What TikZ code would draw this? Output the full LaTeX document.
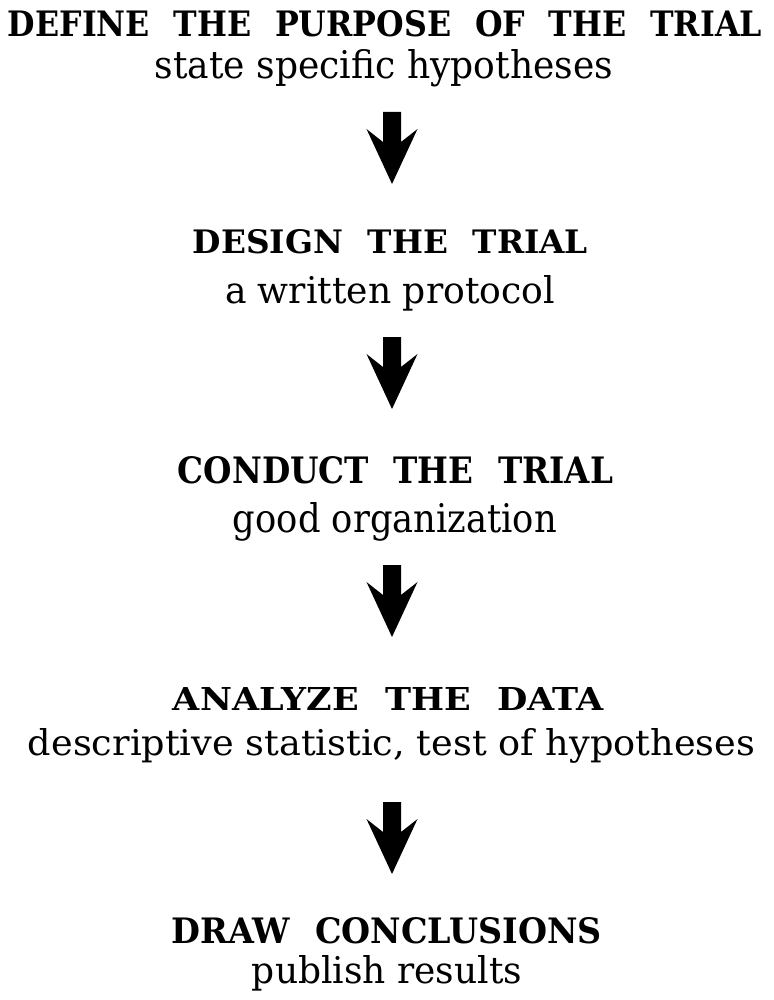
\documentclass[tikz,border=0pt]{standalone}
\usepackage{fontspec}
\setmainfont{DejaVu Serif}
\usepackage{graphicx}
\newcommand\fitline[3]{\resizebox{#1pt}{#2pt}{#3}}
\newcommand\gap{\hspace{0.75em}}
\tikzset{
  txt/.style={anchor=base, inner sep=0pt, outer sep=0pt},
  pics/blockarrow/.style={code={
    \fill[black] (-9,0) -- (9,0) -- (9,30) -- (25.5,17) -- (0,72) -- (-25.5,17) -- (-9,30) -- cycle;
  }}
}
\begin{document}
\begin{tikzpicture}[x=1pt,y=-1pt]
\useasboundingbox (0,0) rectangle (773,1000);
\fill[white] (0,0) rectangle (773,1000);

\node[txt] (t1) at (385,37) {\fitline{754}{26}{\bfseries DEFINE\gap THE\gap PURPOSE\gap OF\gap THE\gap TRIAL}};
\node[txt] (s1) at (384,79) {\fitline{458}{29}{state specific hypotheses}};

\coordinate (a1) at (392,112);
\pic at (a1) {blockarrow};

\node[txt] (t2) at (390.5,254) {\fitline{395}{24}{\bfseries DESIGN\gap THE\gap TRIAL}};
\node[txt] (s2) at (390,303) {\fitline{330}{28}{a written protocol}};

\coordinate (a2) at (392,337);
\pic at (a2) {blockarrow};

\node[txt] (t3) at (395.5,483) {\fitline{435}{27}{\bfseries CONDUCT\gap THE\gap TRIAL}};
\node[txt] (s3) at (395,532) {\fitline{324}{30}{good organization}};

\coordinate (a3) at (392,565);
\pic at (a3) {blockarrow};

\node[txt] (t4) at (388.5,710) {\fitline{431}{23}{\bfseries ANALYZE\gap THE\gap DATA}};
\node[txt] (s4) at (391.5,755) {\fitline{727}{27}{descriptive statistic, test of hypotheses}};

\coordinate (a4) at (392,802);
\pic at (a4) {blockarrow};

\node[txt] (t5) at (387,943) {\fitline{430}{26}{\bfseries DRAW\gap CONCLUSIONS}};
\node[txt] (s5) at (387,983) {\fitline{270}{28}{publish results}};
\end{tikzpicture}
\end{document}
